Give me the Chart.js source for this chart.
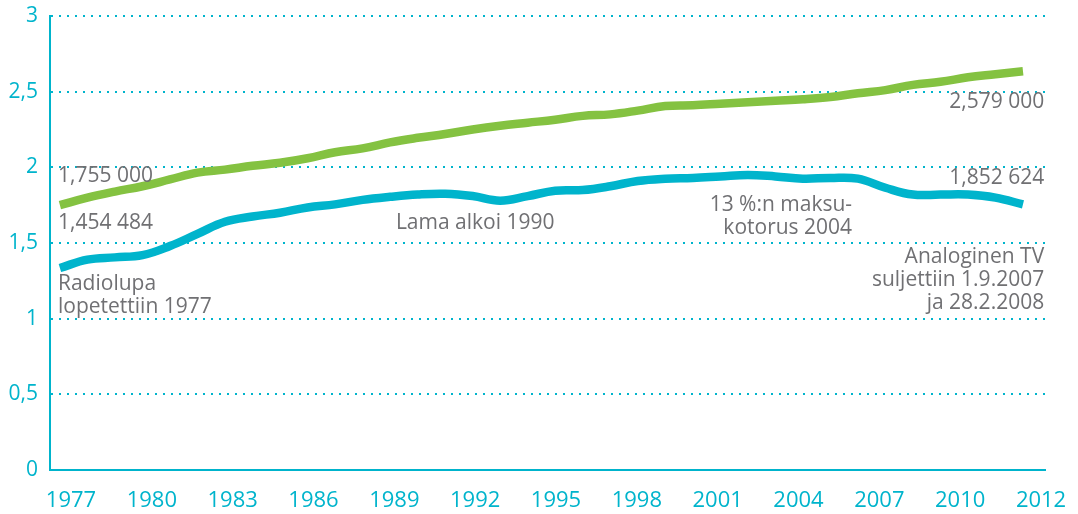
<!DOCTYPE html>
<html>
<head>
<meta charset="utf-8">
<script src="https://cdn.jsdelivr.net/npm/chart.js@4.4.1/dist/chart.umd.min.js"></script>
<style>
  html, body { margin: 0; padding: 0; background: #fff; }
  #wrap { width: 1078px; height: 514px; }
</style>
</head>
<body>
<div id="wrap"><canvas id="chart" width="1078" height="514"></canvas></div>
<script>
// Years and values (millions)
const years = [1977, 1978, 1979, 1980, 1981, 1982, 1983, 1984, 1985, 1986, 1987, 1988,
  1989, 1990, 1991, 1992, 1993, 1994, 1995, 1996, 1997, 1998, 1999, 2000,
  2001, 2002, 2003, 2004, 2005, 2006, 2007, 2008, 2009, 2010, 2011, 2012];

const greenValues = [1.75, 1.80, 1.84, 1.875, 1.92, 1.965, 1.985, 2.01, 2.03, 2.06, 2.10, 2.125,
  2.165, 2.195, 2.22, 2.25, 2.275, 2.295, 2.315, 2.34, 2.35, 2.375, 2.405, 2.41,
  2.42, 2.43, 2.44, 2.45, 2.465, 2.49, 2.51, 2.545, 2.565, 2.595, 2.615, 2.635];

const cyanValues = [1.335, 1.39, 1.405, 1.42, 1.48, 1.56, 1.64, 1.675, 1.70, 1.735, 1.755, 1.785,
  1.805, 1.82, 1.825, 1.81, 1.78, 1.81, 1.845, 1.85, 1.875, 1.91, 1.925, 1.93,
  1.94, 1.95, 1.94, 1.925, 1.93, 1.925, 1.865, 1.82, 1.82, 1.82, 1.80, 1.755];

// Tick labels along the bottom (evenly spaced in the original)
const xLabels = ['1977', '1980', '1983', '1986', '1989', '1992', '1995', '1998',
  '2001', '2004', '2007', '2010', '2012'];

// Text notes, anchored at (year, value); lines stack downward
const notes = [
  { year: 1976.93, value: 1.903, align: 'left', lines: ['1,755 000'] },
  { year: 1976.93, value: 1.593, align: 'left', lines: ['1,454 484'] },
  { year: 1976.93, value: 1.190, align: 'left', lines: ['Radiolupa', 'lopetettiin 1977'] },
  { year: 1989.21, value: 1.593, align: 'left', lines: ['Lama alkoi 1990'] },
  { year: 2005.79, value: 1.712, align: 'right', lines: ['13 %:n maksu-', 'kotorus 2004'] },
  { year: 2012.77, value: 2.393, align: 'right', lines: ['2,579 000'] },
  { year: 2012.77, value: 1.890, align: 'right', lines: ['1,852 624'] },
  { year: 2012.77, value: 1.368, align: 'right', lines: ['Analoginen TV', 'suljettiin 1.9.2007', 'ja 28.2.2008'] }
];

const CYAN = '#00b4cc';
const GREEN = '#84c241';
const GRAY = '#707073';
const FONT = '"Open Sans", "Noto Sans", sans-serif';

const notesPlugin = {
  id: 'notes',
  afterDraw(chart) {
    const { ctx } = chart;
    const xs = chart.scales.x, ys = chart.scales.y;
    ctx.save();
    ctx.font = '21px ' + FONT;
    ctx.fillStyle = GRAY;
    ctx.textBaseline = 'alphabetic';
    notes.forEach(n => {
      ctx.textAlign = n.align;
      const px = xs.getPixelForValue(n.year);
      const py = ys.getPixelForValue(n.value);
      n.lines.forEach((t, i) => ctx.fillText(t, px, py + i * 23));
    });
    ctx.restore();
  }
};

const ctx = document.getElementById('chart').getContext('2d');
new Chart(ctx, {
  type: 'line',
  data: {
    datasets: [
      {
        data: years.map((y, i) => ({ x: y, y: greenValues[i] })),
        borderColor: GREEN,
        borderWidth: 8.5,
        pointRadius: 0,
        tension: 0.4,
        fill: false
      },
      {
        data: years.map((y, i) => ({ x: y, y: cyanValues[i] })),
        borderColor: CYAN,
        borderWidth: 8.5,
        pointRadius: 0,
        tension: 0.4,
        fill: false
      }
    ]
  },
  options: {
    responsive: false,
    animation: false,
    devicePixelRatio: 1,
    layout: { padding: { top: 16, right: 33, left: 0, bottom: 0 } },
    plugins: { legend: { display: false }, tooltip: { enabled: false } },
    scales: {
      x: {
        type: 'linear',
        display: false,
        min: 1976.64,
        max: 2012.8
      },
      xt: {
        type: 'linear',
        position: 'bottom',
        min: -0.2598,
        max: 12.049,
        afterBuildTicks: s => { s.ticks = xLabels.map((_, i) => ({ value: i })); },
        afterFit: s => { s.height = 44; s.paddingLeft = 0; s.paddingRight = 0; },
        grid: { display: false, drawTicks: false },
        border: { display: true, color: CYAN, width: 2 },
        ticks: {
          color: CYAN,
          font: { family: FONT, size: 22 },
          padding: 18,
          maxRotation: 0,
          autoSkip: false,
          callback: v => xLabels[v]
        }
      },
      y: {
        min: 0,
        max: 3,
        afterFit: s => { s.width = 50; s.paddingTop = 0; s.paddingBottom = 0; },
        grid: {
          color: CYAN,
          lineWidth: 2,
          drawTicks: false
        },
        border: { display: true, color: CYAN, width: 2, dash: [2, 6] },
        ticks: {
          stepSize: 0.5,
          color: CYAN,
          font: { family: FONT, size: 21 },
          padding: 12,
          callback: v => String(v).replace('.', ',')
        }
      }
    }
  },
  plugins: [notesPlugin]
});
</script>
</body>
</html>
